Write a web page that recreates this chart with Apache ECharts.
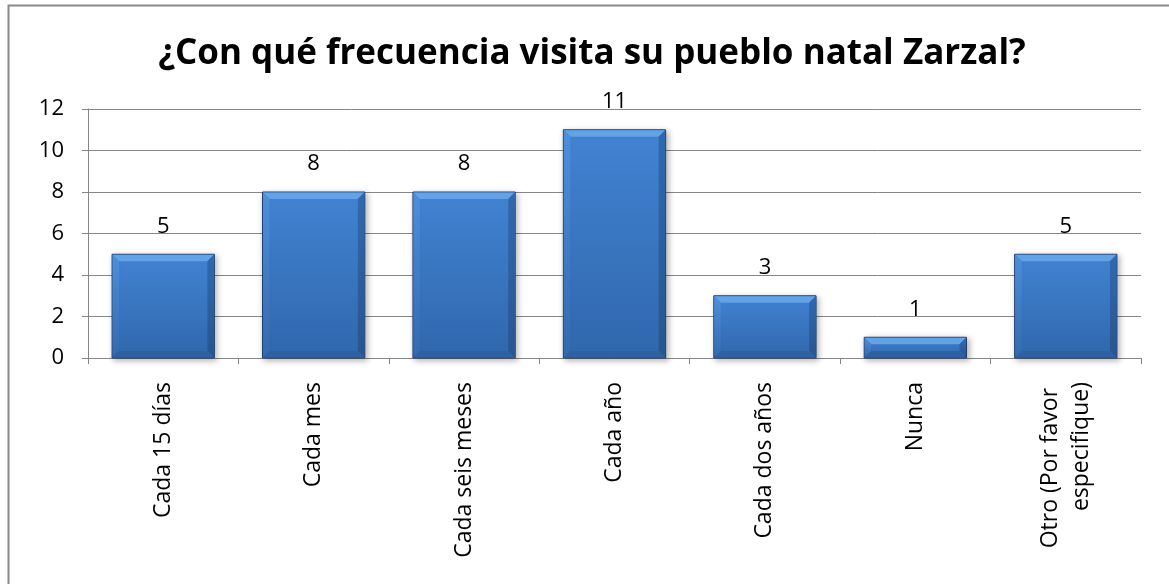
<!DOCTYPE html>
<html><head><meta charset="utf-8">
<script src="https://cdn.jsdelivr.net/npm/echarts@6/dist/echarts.min.js"></script>
<style>html,body{margin:0;padding:0;background:#fff}#c{width:1169px;height:584px}</style>
</head><body><div id="c"></div>
<script>
const title = '¿Con qué frecuencia visita su pueblo natal Zarzal?';
const categories = ['Cada 15 días','Cada mes','Cada seis meses','Cada año','Cada dos años','Nunca','Otro (Por favor especifique)'];
const values = [5, 8, 8, 11, 3, 1, 5];
const yTicks = [0, 2, 4, 6, 8, 10, 12];

const FONT = '"Open Sans", "Liberation Sans", sans-serif';
const chart = echarts.init(document.getElementById('c'), null, {renderer: 'canvas'});

function renderBar(params, api) {
  const idx = api.value(0), v = api.value(1);
  const top = api.coord([idx, v]);
  const base = api.coord([idx, 0]);
  const band = api.size([1, 0])[0];
  const w = band * 0.68;
  const x0 = top[0] - w / 2, x1 = top[0] + w / 2, y0 = top[1], y1 = base[1];
  const b = Math.min(7, (y1 - y0) / 2);
  return {
    type: 'group',
    children: [
      {type: 'rect', shape: {x: x0, y: y0, width: w, height: y1 - y0},
       style: {fill: new echarts.graphic.LinearGradient(0, 0, 0, 1, [{offset: 0, color: '#4283d3'}, {offset: 1, color: '#3067ac'}]),
               stroke: '#1f406d', lineWidth: 1, shadowBlur: 6, shadowColor: 'rgba(0,0,0,0.3)', shadowOffsetX: 2, shadowOffsetY: 2}},
      {type: 'polygon', shape: {points: [[x0 + 0.5, y0 + 0.5], [x1 - 0.5, y0 + 0.5], [x1 - b, y0 + b], [x0 + b, y0 + b]]},
       style: {fill: '#62a2e6'}},
      {type: 'polygon', shape: {points: [[x0 + 0.5, y0 + 0.5], [x0 + b, y0 + b], [x0 + b, y1 - b], [x0 + 0.5, y1 - 0.5]]},
       style: {fill: new echarts.graphic.LinearGradient(0, 0, 0, 1, [{offset: 0, color: '#4d8fdc'}, {offset: 1, color: '#3469ae'}])}},
      {type: 'polygon', shape: {points: [[x1 - 0.5, y0 + 0.5], [x1 - 0.5, y1 - 0.5], [x1 - b, y1 - b], [x1 - b, y0 + b]]},
       style: {fill: new echarts.graphic.LinearGradient(0, 0, 0, 1, [{offset: 0, color: '#3069b0'}, {offset: 1, color: '#28558f'}])}},
      {type: 'polygon', shape: {points: [[x0 + 0.5, y1 - 0.5], [x1 - 0.5, y1 - 0.5], [x1 - b, y1 - b], [x0 + b, y1 - b]]},
       style: {fill: '#2e60a2'}},
      {type: 'text', style: {text: String(v), x: top[0], y: y0 - 17, align: 'center', verticalAlign: 'bottom',
       fontSize: 22, fontFamily: FONT, fill: '#000'}}
    ]
  };
}

chart.setOption({
  animation: false,
  backgroundColor: '#fff',
  graphic: [{type: 'rect', left: 6, top: 3, shape: {width: 1180, height: 600},
             style: {fill: 'none', stroke: '#8a8a8a', lineWidth: 2}, z: 100}],
  title: {text: title, left: 587, top: 32, textAlign: 'center',
          textStyle: {fontSize: 35, fontWeight: 'bold', fontFamily: FONT, color: '#000'}},
  grid: {left: 88, right: 28, top: 109, bottom: 226, containLabel: false},
  xAxis: {
    type: 'category', data: categories,
    axisLine: {lineStyle: {color: '#868686', width: 1}},
    axisTick: {show: true, length: 6, alignWithLabel: false, lineStyle: {color: '#868686'}},
    axisLabel: {rotate: 90, margin: 24, fontSize: 23, fontFamily: FONT, color: '#000', interval: 0,
                width: 185, overflow: 'break', lineHeight: 31}
  },
  yAxis: {
    type: 'value', min: yTicks[0], max: yTicks[yTicks.length - 1], interval: 2,
    axisLine: {show: true, lineStyle: {color: '#868686'}},
    axisTick: {show: true, length: 6, lineStyle: {color: '#868686'}},
    splitLine: {lineStyle: {color: '#868686', width: 1}},
    axisLabel: {fontSize: 22, fontFamily: FONT, color: '#000', margin: 24}
  },
  series: [{
    type: 'custom', renderItem: renderBar,
    data: values.map((v, i) => [i, v]),
    encode: {x: 0, y: 1}
  }]
});
</script></body></html>
